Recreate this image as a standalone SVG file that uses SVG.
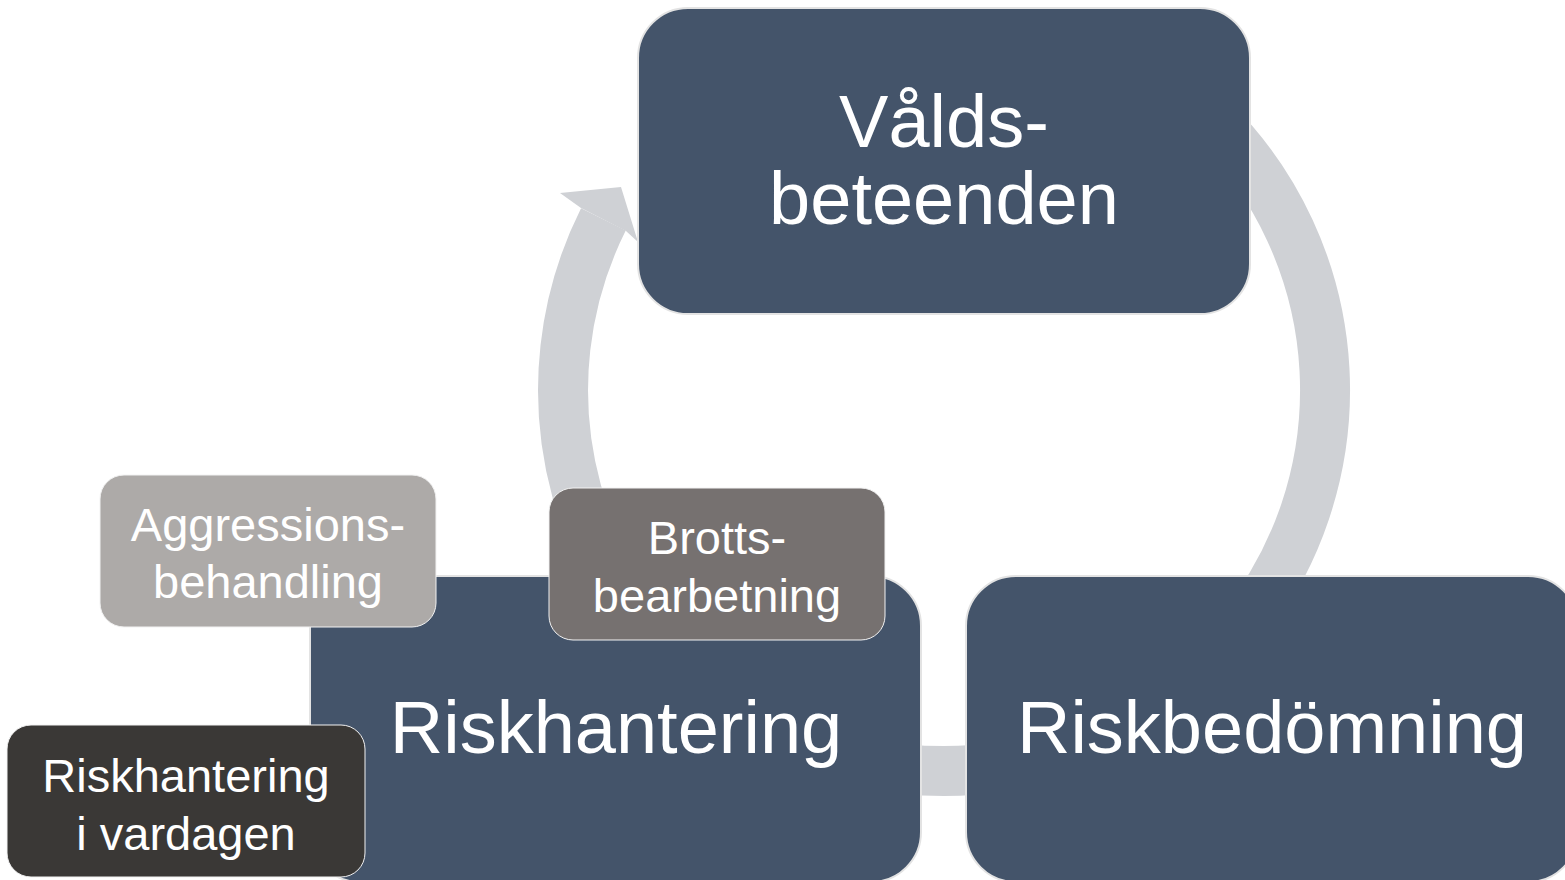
<svg xmlns="http://www.w3.org/2000/svg" width="1565" height="880" viewBox="0 0 1565 880">
<style>
.main{fill:#44546A;stroke:#E3E3E3;stroke-width:2}
.big{font-family:"Liberation Sans",Arial,sans-serif;font-size:74px;fill:#FFFFFF;text-anchor:middle}
.small{font-family:"Liberation Sans",Arial,sans-serif;font-size:47px;fill:#FFFFFF;text-anchor:middle}
.ring{fill:none;stroke:#CFD1D5;stroke-width:50}
.sub{stroke:#F2F2F2;stroke-width:1}
</style>
<rect width="1565" height="880" fill="#FFFFFF"/>
<g id="connectors">
<path class="ring" d="M1213.4,120.6 A381,381 0 1 1 603.4,219.4"/>
<polygon points="560,193 621,187 638,242 626,231 581,208" fill="#CFD1D5"/>
</g>
<g id="node-valdsbeteenden">
<rect class="main" x="638" y="8" width="612" height="306" rx="50" ry="50"/>
<text class="big" x="944" y="147">Vålds-</text>
<text class="big" x="944" y="224">beteenden</text>
</g>
<g id="node-riskhantering">
<rect class="main" x="310" y="576" width="611" height="306" rx="50" ry="50"/>
<text class="big" x="616" y="753">Riskhantering</text>
</g>
<g id="node-riskbedomning">
<rect class="main" x="966" y="576" width="612" height="306" rx="50" ry="50"/>
<text class="big" x="1272" y="753">Riskbedömning</text>
</g>
<g id="node-aggressionsbehandling">
<rect class="sub" x="100" y="475" width="336" height="152" rx="24" ry="24" fill="#ADAAA8"/>
<text class="small" x="268" y="541">Aggressions-</text>
<text class="small" x="268" y="598">behandling</text>
</g>
<g id="node-brottsbearbetning">
<rect class="sub" x="549" y="488" width="336" height="152" rx="24" ry="24" fill="#767170"/>
<text class="small" x="717" y="554">Brotts-</text>
<text class="small" x="717" y="612">bearbetning</text>
</g>
<g id="node-riskhantering-vardagen">
<rect class="sub" x="7" y="725" width="358" height="152" rx="24" ry="24" fill="#3A3836"/>
<text class="small" x="186" y="792">Riskhantering</text>
<text class="small" x="186" y="850">i vardagen</text>
</g>
</svg>
